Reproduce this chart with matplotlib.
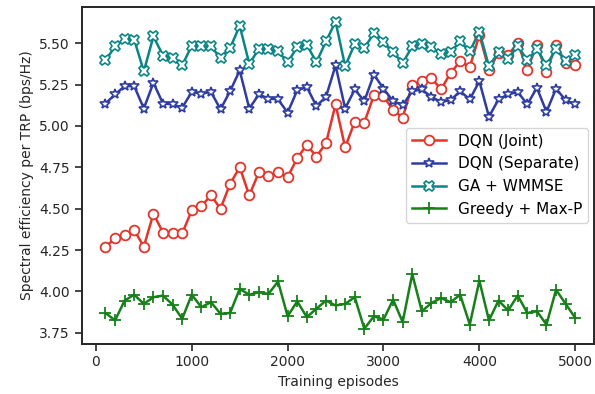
import matplotlib
matplotlib.use("Agg")
import matplotlib.pyplot as plt
import numpy as np

episodes = list(range(100, 5001, 100))

dqn_joint = [4.27, 4.32, 4.34, 4.37, 4.27, 4.47, 4.355, 4.35, 4.35, 4.49,
             4.515, 4.58, 4.50, 4.65, 4.75, 4.58, 4.72, 4.70, 4.72, 4.69,
             4.805, 4.885, 4.815, 4.895, 5.13, 4.87, 5.025, 5.02, 5.185, 5.18,
             5.095, 5.05, 5.245, 5.27, 5.29, 5.22, 5.32, 5.39, 5.355, 5.55,
             5.34, 5.44, 5.43, 5.50, 5.34, 5.49, 5.325, 5.49, 5.38, 5.37]

dqn_sep = [5.135, 5.19, 5.24, 5.24, 5.105, 5.26, 5.135, 5.13, 5.11, 5.205,
           5.195, 5.205, 5.10, 5.21, 5.335, 5.105, 5.19, 5.165, 5.16, 5.08,
           5.215, 5.235, 5.12, 5.175, 5.365, 5.105, 5.22, 5.15, 5.31, 5.225,
           5.15, 5.125, 5.21, 5.22, 5.175, 5.145, 5.155, 5.21, 5.16, 5.27,
           5.055, 5.16, 5.19, 5.205, 5.13, 5.23, 5.085, 5.225, 5.155, 5.13]

ga_wmmse = [5.395, 5.48, 5.525, 5.52, 5.33, 5.54, 5.425, 5.41, 5.365, 5.485,
            5.48, 5.48, 5.41, 5.47, 5.605, 5.375, 5.465, 5.465, 5.45, 5.385,
            5.475, 5.49, 5.385, 5.51, 5.63, 5.36, 5.495, 5.47, 5.56, 5.505,
            5.445, 5.38, 5.48, 5.495, 5.475, 5.435, 5.445, 5.51, 5.45, 5.57,
            5.36, 5.445, 5.405, 5.485, 5.395, 5.465, 5.365, 5.465, 5.39, 5.43]

greedy = [3.87, 3.825, 3.945, 3.98, 3.925, 3.965, 3.975, 3.92, 3.835, 3.98,
          3.905, 3.935, 3.865, 3.87, 4.015, 3.98, 3.995, 3.985, 4.06, 3.85,
          3.94, 3.845, 3.895, 3.945, 3.915, 3.925, 3.965, 3.775, 3.85, 3.83,
          3.95, 3.815, 4.105, 3.88, 3.93, 3.96, 3.935, 3.98, 3.80, 4.065,
          3.825, 3.945, 3.885, 3.975, 3.87, 3.88, 3.80, 4.01, 3.925, 3.84]

labels = ["DQN (Joint)", "DQN (Separate)", "GA + WMMSE", "Greedy + Max-P"]

fig = plt.figure(figsize=(5.95, 3.94), dpi=100)
ax = fig.add_axes([0.137, 0.128, 0.862, 0.855])

ax.plot(episodes, dqn_joint, color="#e2352b", lw=1.8, marker="o", ms=7,
        mfc="white", mec="#e2352b", mew=1.3, label=labels[0], zorder=3)
ax.plot(episodes, dqn_sep, color="#2e3d9f", lw=1.8, marker="*", ms=7.5,
        mfc="white", mec="#2e3d9f", mew=1.2, label=labels[1], zorder=3)
ax.plot(episodes, ga_wmmse, color="#0a8585", lw=1.8, marker="X", ms=7.5,
        mfc="white", mec="#0a8585", mew=1.2, label=labels[2], zorder=4)
ax.plot(episodes, greedy, color="#18801a", lw=1.8, marker="+", ms=8,
        mfc="white", mec="#18801a", mew=1.3, label=labels[3], zorder=3)

ax.set_xlim(-150, 5200)
ax.set_ylim(3.685, 5.72)
ax.set_xticks([0, 1000, 2000, 3000, 4000, 5000])
ax.set_yticks([3.75, 4.00, 4.25, 4.50, 4.75, 5.00, 5.25, 5.50])
ax.set_yticklabels(["3.75", "4.00", "4.25", "4.50", "4.75", "5.00", "5.25", "5.50"])
ax.set_xlabel("Training episodes", fontsize=10, color="#262626")
ax.set_ylabel("Spectral efficiency per TRP (bps/Hz)", fontsize=10, color="#262626")
ax.tick_params(direction="out", length=5, width=1.2, labelsize=10,
               colors="#262626")
for s in ax.spines.values():
    s.set_linewidth(1.4)
    s.set_color("#262626")

leg = ax.legend(loc="center right", fontsize=11, frameon=True,
                fancybox=True, handlelength=2.2, borderaxespad=0.4)
leg.get_frame().set_edgecolor("#cccccc")

fig.savefig("out.png", dpi=100)
